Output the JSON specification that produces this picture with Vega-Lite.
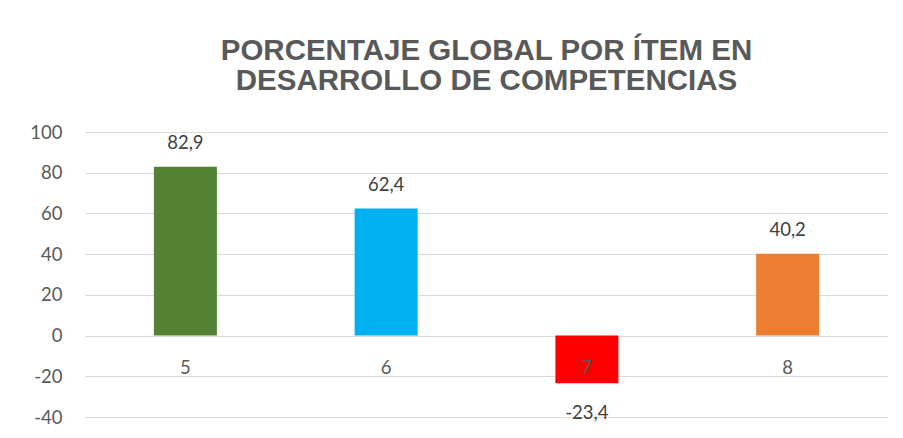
{
  "$schema": "https://vega.github.io/schema/vega-lite/v6.json",
  "width": 803,
  "height": 285,
  "autosize": {"type": "none"},
  "padding": {"left": 85, "top": 132, "right": 15, "bottom": 21},
  "background": "white",
  "config": {
    "view": {"stroke": null},
    "locale": {"number": {"decimal": ",", "thousands": ".", "grouping": [3], "currency": ["", " €"], "minus": "-"}}
  },
  "title": {
    "text": ["PORCENTAJE GLOBAL POR ÍTEM EN", "DESARROLLO DE COMPETENCIAS"],
    "font": "Liberation Sans",
    "fontSize": 29.5,
    "fontWeight": "bold",
    "color": "#595959",
    "lineHeight": 30,
    "anchor": "middle",
    "offset": 27
  },
  "data": {
    "values": [
      {"item": "5", "valor": 82.9},
      {"item": "6", "valor": 62.4},
      {"item": "7", "valor": -23.4},
      {"item": "8", "valor": 40.2}
    ]
  },
  "encoding": {
    "x": {"field": "item", "type": "nominal", "sort": null, "axis": null, "scale": {"paddingInner": 0.686, "paddingOuter": 0.343}}
  },
  "layer": [
    {
      "mark": {"type": "bar", "width": 63},
      "encoding": {
        "y": {
          "field": "valor", "type": "quantitative",
          "scale": {"domain": [-40, 100], "nice": false},
          "axis": {
            "values": [-40, -20, 0, 20, 40, 60, 80, 100],
            "title": null, "domain": false, "ticks": false,
            "labelFont": "Lato", "labelFontSize": 18.5, "labelColor": "#595959",
            "labelPadding": 23, "gridColor": "#D9D9D9", "gridWidth": 1
          }
        },
        "color": {
          "field": "item", "type": "nominal", "legend": null,
          "scale": {"domain": ["5", "6", "7", "8"], "range": ["#548235", "#00B0F0", "#FF0000", "#ED7D31"]}
        }
      }
    },
    {
      "mark": {"type": "text", "font": "Lato", "fontSize": 18.5, "color": "#595959", "baseline": "middle", "dy": 32},
      "encoding": {
        "y": {"datum": 0, "type": "quantitative"},
        "text": {"field": "item", "type": "nominal"}
      }
    },
    {
      "transform": [{"filter": "datum.valor >= 0"}],
      "mark": {"type": "text", "font": "Lato", "fontSize": 18.5, "color": "#404040", "baseline": "middle", "dy": -24},
      "encoding": {
        "y": {"field": "valor", "type": "quantitative"},
        "text": {"field": "valor", "type": "quantitative", "format": ".1f"}
      }
    },
    {
      "transform": [{"filter": "datum.valor < 0"}],
      "mark": {"type": "text", "font": "Lato", "fontSize": 18.5, "color": "#404040", "baseline": "middle", "dy": 30},
      "encoding": {
        "y": {"field": "valor", "type": "quantitative"},
        "text": {"field": "valor", "type": "quantitative", "format": ".1f"}
      }
    }
  ]
}
